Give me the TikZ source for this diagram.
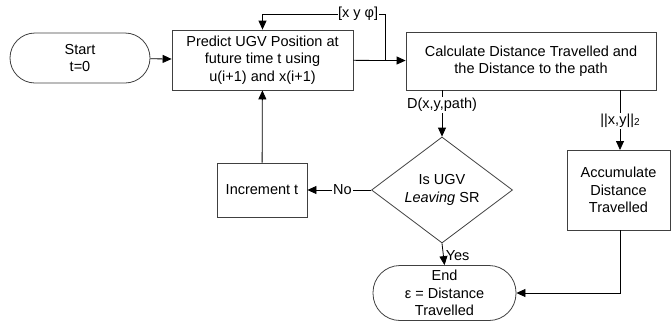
\documentclass[tikz,border=0pt]{standalone}
\usepackage{fontspec}
\setmainfont{Liberation Sans}
\usetikzlibrary{arrows.meta,shapes.geometric,calc}
\begin{document}
\begin{tikzpicture}[x=1pt,y=-1pt,
  font=\fontsize{14.5}{17.5}\selectfont,
  box/.style={draw=black!75,line width=0.8pt,rectangle,align=center,inner sep=0pt},
  term/.style={box,rounded corners=#1},
  decision/.style={draw=black!75,line width=0.8pt,diamond,align=center,inner sep=0pt},
  link/.style={line width=0.8pt,-{Triangle[length=9pt,width=8pt]}},
  plain/.style={line width=0.8pt},
  lbl/.style={fill=white,inner sep=1pt}]
\useasboundingbox (0,0) rectangle (671,322);

% process blocks
\node[term=25pt,minimum width=140pt,minimum height=50pt] (start) at (80,58) {Start\\t=0};
\node[box,minimum width=181pt,minimum height=60pt] (predict) at (262.5,60)
  {Predict UGV Position at\\future time t using\\u(i+1) and x(i+1)};
\node[box,minimum width=250pt,minimum height=58pt] (calc) at (531,61)
  {Calculate Distance Travelled and\\the Distance to the path};
\node[decision,minimum width=141pt,minimum height=106pt] (leave) at (442,190)
  {Is UGV\\\textit{Leaving} SR};
\node[box,minimum width=90pt,minimum height=54pt] (incr) at (262,190) {Increment t};
\node[box,minimum width=103pt,minimum height=80pt] (accum) at (618.5,190)
  {Accumulate\\Distance\\Travelled};
\node[term=27pt,minimum width=143pt,minimum height=55pt] (end) at (444.5,293)
  {End\\ε = Distance\\Travelled};

% junctions and bends
\coordinate (split) at (385,60);
\coordinate (loopR) at (385,14);
\coordinate (loopL) at (262.5,14);
\coordinate (dTop) at (442,90);
\coordinate (nTop) at (620,90);
\coordinate (nBot) at (620,150);
\coordinate (aBot) at (620,230);
\coordinate (corner) at (620,293);

% connectors
\draw[link] (start) -- (predict);
\draw[link] (predict) -- (calc);
\draw[link] (split) -- (loopR) -- node[lbl,pos=0.22,inner sep=0.5pt] {[x y φ]} (loopL) -- (predict.north);
\draw[link] (dTop) -- node[lbl,pos=0.32] {D(x,y,path)} (leave.north);
\draw[link] (nTop) -- node[lbl,pos=0.52] {||x,y||{\fontsize{10}{10}\selectfont\raisebox{-1pt}{2}}} (nBot);
\draw[link] (leave.west) -- node[lbl,pos=0.45] {No} (incr.east);
\draw[link] (incr) -- (predict);
\draw[link] (leave.south) -- node[right,inner sep=2pt,pos=0.55] {Yes} (end.north);
\draw[link] (aBot) -- (corner) -- (end.east);
\end{tikzpicture}
\end{document}
